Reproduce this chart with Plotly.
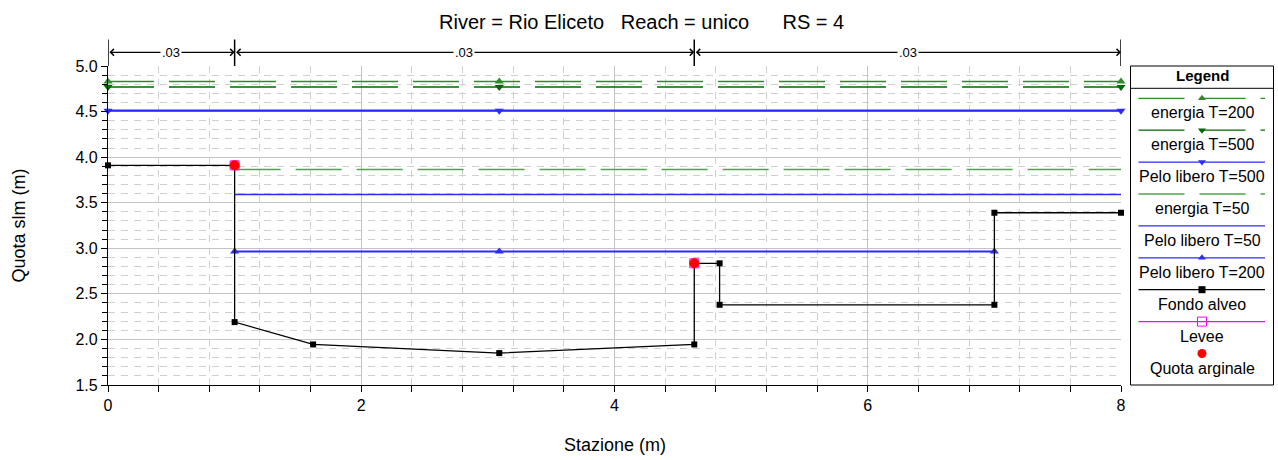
import plotly.graph_objects as go

W, H = 1278, 460
FONT = "Liberation Sans, Arial, sans-serif"

# ---------------- data ----------------
ground_x = [0.0, 1.0, 1.0, 1.62, 3.09, 4.63, 4.63, 4.83, 4.83, 7.0, 7.0, 8.0]
ground_y = [3.91, 3.91, 2.19, 1.945, 1.85, 1.945, 2.835, 2.835, 2.38, 2.38, 3.39, 3.39]

levee_x = [1.0, 4.63]
levee_y = [3.91, 2.835]

eg200_x = [0.0, 3.09, 8.0]
eg200_y = [4.83, 4.83, 4.83]
eg500_x = [0.0, 3.09, 8.0]
eg500_y = [4.77, 4.77, 4.77]
ws500_x = [0.0, 3.09, 8.0]
ws500_y = [4.51, 4.51, 4.51]
eg50_x = [1.0, 8.0]
eg50_y = [3.865, 3.865]
ws50_x = [1.0, 8.0]
ws50_y = [3.59, 3.59]
ws200_x = [1.0, 3.09, 7.0]
ws200_y = [2.965, 2.965, 2.965]

bounds = [0.0, 1.0, 4.63, 8.0]
manning = [".03", ".03", ".03"]

x_range = [0, 8]
y_range = [1.5, 5.0]

# ---------------- geometry helpers ----------------
PL, PR, PT, PB = 108, 1121, 66, 385


def px(x):
    return x / W


def py(y):
    return (H - y) / H


GREEN_A = "#2e8b2e"
GREEN_B = "#006a00"
GREEN_C = "#4aa84a"
BLUE = "#2b2bff"
DASH = "46px,15px"

fig = go.Figure()


def add(x, y, color, width, dash="solid", symbol=None, msize=8, mode=None,
        xaxis="x", yaxis="y", mcolor=None):
    if mode is None:
        mode = "lines+markers" if symbol else "lines"
    marker = dict(symbol=symbol or "circle", size=msize, color=mcolor or color)
    fig.add_trace(go.Scatter(
        x=x, y=y, mode=mode, line=dict(color=color, width=width, dash=dash),
        marker=marker, cliponaxis=False, showlegend=False, hoverinfo="skip",
        xaxis=xaxis, yaxis=yaxis))


# plot traces
add(eg50_x, eg50_y, GREEN_C, 1.5, DASH)
add(eg200_x, eg200_y, GREEN_A, 1.5, DASH, "triangle-up", 8)
add(eg500_x, eg500_y, GREEN_B, 1.5, DASH, "triangle-down", 8)
add(ws500_x, ws500_y, BLUE, 2.2, "solid", "triangle-down", 8)
add(ws50_x, ws50_y, BLUE, 1.5)
add(ws200_x, ws200_y, BLUE, 2.0, "solid", "triangle-up", 8)
add(ground_x, ground_y, "black", 1.3, "solid", "square", 6)
add(levee_x, levee_y, "magenta", 1, "solid", "square-open", 9, mode="markers")
add(levee_x, levee_y, "#ff0000", 1, "solid", "circle", 10, mode="markers")

# ---------------- legend (drawn on an overlay pixel axis) ----------------
legend_items = [
    ("energia T=200", GREEN_A, DASH, "triangle-up", "lines+markers"),
    ("energia T=500", GREEN_B, DASH, "triangle-down", "lines+markers"),
    ("Pelo libero T=500", BLUE, "solid", "triangle-down", "lines+markers"),
    ("energia T=50", GREEN_C, DASH, None, "lines"),
    ("Pelo libero T=50", BLUE, "solid", None, "lines"),
    ("Pelo libero T=200", BLUE, "solid", "triangle-up", "lines+markers"),
    ("Fondo alveo", "black", "solid", "square", "lines+markers"),
    ("Levee", "magenta", "solid", "square-open", "lines+markers"),
    ("Quota arginale", "red", "solid", "circle", "markers"),
]
LX0, LX1, LXC = 1138.5, 1265, 1202
ly0, lstep = 98.3, 31.9
annotations = []
for i, (name, col, dash, sym, mode) in enumerate(legend_items):
    yy = ly0 + i * lstep
    if "lines" in mode:
        fig.add_trace(go.Scatter(
            x=[LX0, LX1], y=[yy, yy], mode="lines",
            line=dict(color=col, width=1.3, dash=dash),
            showlegend=False, hoverinfo="skip", xaxis="x2", yaxis="y2"))
    if sym:
        ms = 9 if sym in ("circle", "square-open") else 7
        fig.add_trace(go.Scatter(
            x=[LXC], y=[yy], mode="markers",
            marker=dict(symbol=sym, size=ms, color=col),
            showlegend=False, hoverinfo="skip", xaxis="x2", yaxis="y2",
            cliponaxis=False))
    annotations.append(dict(
        x=px(LXC), y=py(yy + 14.5), xref="paper", yref="paper", text=name,
        showarrow=False, xanchor="center", yanchor="middle",
        font=dict(family=FONT, size=16, color="black")))

annotations.append(dict(
    x=px(LXC), y=py(75.7), xref="paper", yref="paper", text="<b>Legend</b>",
    showarrow=False, xanchor="center", yanchor="middle",
    font=dict(family=FONT, size=15, color="black")))

shapes = [
    dict(type="rect", xref="paper", yref="paper", x0=px(1130.5), x1=px(1273.5),
         y0=py(385), y1=py(66), line=dict(color="black", width=1)),
    dict(type="line", xref="paper", yref="paper", x0=px(1130.5), x1=px(1273.5),
         y0=py(88.3), y1=py(88.3), line=dict(color="black", width=1)),
]

# ---------------- reach/bank markers above plot ----------------
ARROW_Y = py(52.3)
for b in bounds:
    shapes.append(dict(type="line", xref="x", yref="paper", x0=b, x1=b,
                       y0=py(PT), y1=py(39.5), line=dict(color="black", width=1.5)))
for i in range(len(bounds) - 1):
    a, b = bounds[i], bounds[i + 1]
    annotations.append(dict(
        x=b, y=ARROW_Y, xref="x", yref="paper", ax=a, ay=0, axref="x", ayref="pixel",
        text="", showarrow=True, arrowside="end+start", arrowhead=4,
        startarrowhead=4, arrowsize=1.1, startarrowsize=1.1, arrowwidth=1.2,
        arrowcolor="black"))
    annotations.append(dict(
        x=(a + b) / 2, y=ARROW_Y, xref="x", yref="paper", text=manning[i],
        showarrow=False, bgcolor="white", borderpad=1,
        xanchor="center", yanchor="middle",
        font=dict(family=FONT, size=13, color="black")))

# ---------------- titles ----------------
annotations.append(dict(
    x=px(641), y=py(22), xref="paper", yref="paper",
    text="River = Rio Eliceto&nbsp;&nbsp;&nbsp;Reach = unico&nbsp;&nbsp;&nbsp;&nbsp;&nbsp;&nbsp;RS = 4",
    xanchor="center", yanchor="middle",
    showarrow=False, font=dict(family=FONT, size=20, color="black")))
annotations.append(dict(
    x=px((PL + PR) / 2), y=py(445), xref="paper", yref="paper", text="Stazione (m)",
    xanchor="center", yanchor="middle",
    showarrow=False, font=dict(family=FONT, size=18, color="black")))
annotations.append(dict(
    x=px(18), y=py((PT + PB) / 2), xref="paper", yref="paper", text="Quota slm (m)",
    xanchor="center", yanchor="middle",
    showarrow=False, textangle=-90, font=dict(family=FONT, size=18, color="black")))

GRID = "#c4c4c4"
MINOR = "#cfcfcf"

fig.update_layout(
    template="none",
    width=W, height=H,
    margin=dict(l=0, r=0, t=0, b=0, pad=0, autoexpand=False),
    paper_bgcolor="white", plot_bgcolor="rgba(0,0,0,0)",
    font=dict(family=FONT, size=16, color="black"),
    showlegend=False,
    xaxis=dict(domain=[px(PL), px(PR)], range=x_range, dtick=2, tick0=0,
               automargin=False,
               showgrid=True, gridcolor=GRID, gridwidth=1.3,
               showline=True, linecolor="black", linewidth=1.3,
               ticks="outside", ticklen=6, tickcolor="black",
               tickfont=dict(family=FONT, size=16), zeroline=False,
               minor=dict(dtick=0.4, tick0=0, showgrid=True, gridcolor=MINOR,
                          griddash="7px,6px", gridwidth=1, ticks="outside",
                          ticklen=6, tickcolor="black"),
               anchor="y", fixedrange=True),
    yaxis=dict(domain=[py(PB), py(PT)], range=y_range, dtick=0.5, tick0=0,
               automargin=False,
               tickformat=".1f", showgrid=True, gridcolor=GRID, gridwidth=1.3,
               showline=True, linecolor="black", linewidth=1.3,
               ticks="outside", ticklen=6, tickcolor="black",
               tickfont=dict(family=FONT, size=16), zeroline=False,
               minor=dict(dtick=0.1, tick0=0, showgrid=True, gridcolor=MINOR,
                          griddash="7px,6px", gridwidth=1, ticks="outside",
                          ticklen=5, tickcolor="black"),
               anchor="x", fixedrange=True),
    xaxis2=dict(domain=[0, 1], range=[0, W], visible=False, anchor="y2",
                automargin=False, fixedrange=True),
    yaxis2=dict(domain=[0, 1], range=[H, 0], visible=False, anchor="x2",
                automargin=False, fixedrange=True),
    shapes=shapes,
    annotations=annotations,
)

fig.write_html("out.html")
